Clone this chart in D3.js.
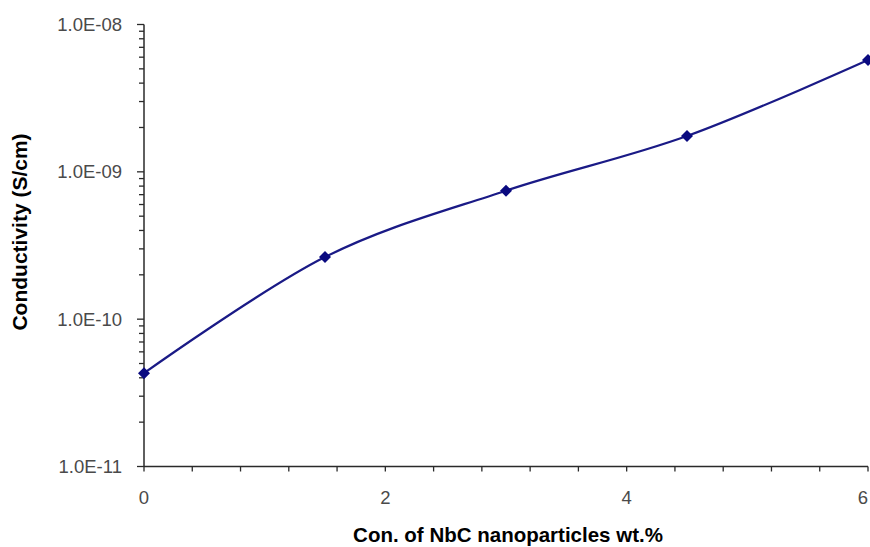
<!DOCTYPE html>
<html>
<head>
<meta charset="utf-8">
<script src="https://cdn.jsdelivr.net/npm/d3@7/dist/d3.min.js"></script>
<style>
  html, body { margin: 0; padding: 0; background: #fff; }
  svg { display: block; }
</style>
</head>
<body>
<svg id="chart" width="870" height="547"></svg>
<script>
// NbC loading (wt.%) and measured conductivity (S/cm)
const concentration = [0, 1.5, 3, 4.5, 6];
const conductivity = [4.3e-11, 2.64e-10, 7.45e-10, 1.75e-9, 5.74e-9];
const xTickValues = [0, 2, 4, 6];
const yTickValues = [1e-11, 1e-10, 1e-9, 1e-8];
const yTickLabels = ["1.0E-11", "1.0E-10", "1.0E-09", "1.0E-08"];

const svg = d3.select("#chart");
const width = 870;
const plotLeft = 144, plotRight = 868, plotTop = 24.5, plotBottom = 466.5;

const x = d3.scaleLinear().domain([0, 6]).range([plotLeft, plotRight]);
const y = d3.scaleLog().domain([1e-11, 1e-8]).range([plotBottom, plotTop]);

const axisColor = "#2a2a2a";
const labelColor = "#4a4a4a";
const font = "Liberation Sans, Arial, sans-serif";

// minor tick positions
const xMinor = d3.range(0, 6.0001, 0.4);
const yMinor = [];
[1e-11, 1e-10, 1e-9].forEach(d => { for (let k = 2; k <= 9; k++) yMinor.push(d * k); });

// x axis
const gx = svg.append("g").attr("transform", `translate(0,${plotBottom})`);
gx.append("line").attr("x1", plotLeft).attr("x2", plotRight).attr("y1", 0).attr("y2", 0)
  .attr("stroke", axisColor).attr("stroke-width", 1.5);
gx.selectAll("line.tick").data(xMinor).join("line").attr("class", "tick")
  .attr("x1", d => x(d)).attr("x2", d => x(d)).attr("y1", 0).attr("y2", 5)
  .attr("stroke", axisColor).attr("stroke-width", 1.3);
// the last label sits against the right edge, so it is kept inside the page
gx.selectAll("text").data(xTickValues).join("text")
  .attr("x", d => Math.min(x(d), width - 1))
  .attr("y", 37)
  .attr("text-anchor", d => x(d) + 6 > width ? "end" : "middle")
  .attr("font-family", font)
  .attr("font-size", 18.5).attr("fill", labelColor)
  .text(d => d);

// y axis
const gy = svg.append("g").attr("transform", `translate(${plotLeft},0)`);
gy.append("line").attr("x1", 0).attr("x2", 0).attr("y1", plotTop).attr("y2", plotBottom)
  .attr("stroke", axisColor).attr("stroke-width", 1.5);
gy.selectAll("line.minor").data(yMinor).join("line").attr("class", "minor")
  .attr("x1", -5).attr("x2", 0).attr("y1", d => y(d)).attr("y2", d => y(d))
  .attr("stroke", axisColor).attr("stroke-width", 1.3);
gy.selectAll("line.major").data(yTickValues).join("line").attr("class", "major")
  .attr("x1", -7).attr("x2", 0).attr("y1", d => y(d)).attr("y2", d => y(d))
  .attr("stroke", axisColor).attr("stroke-width", 1.3);
gy.selectAll("text").data(yTickValues).join("text")
  .attr("x", -22).attr("y", d => y(d)).attr("dy", "0.36em")
  .attr("text-anchor", "end")
  .attr("font-family", font)
  .attr("font-size", 18.5).attr("fill", labelColor)
  .text((d, i) => yTickLabels[i]);

// axis titles
svg.append("text")
  .attr("x", 508).attr("y", 542)
  .attr("text-anchor", "middle")
  .attr("font-family", font)
  .attr("font-size", 20.5).attr("font-weight", "bold").attr("fill", "#000")
  .text("Con. of NbC nanoparticles wt.%");
svg.append("text")
  .attr("transform", "translate(27,232) rotate(-90)")
  .attr("text-anchor", "middle")
  .attr("font-family", font)
  .attr("font-size", 21).attr("font-weight", "bold").attr("fill", "#000")
  .text("Conductivity (S/cm)");

// smoothed series line
const pts = concentration.map((c, i) => [c, conductivity[i]]);
const line = d3.line().x(d => x(d[0])).y(d => y(d[1])).curve(d3.curveCardinal.tension(0));
svg.append("path").datum(pts)
  .attr("d", line).attr("fill", "none")
  .attr("stroke", "#1a1a86").attr("stroke-width", 2.2);

// square-proportioned diamond marker
const squareDiamond = {
  draw(ctx, size) {
    const r = Math.sqrt(size / 2);
    ctx.moveTo(0, -r); ctx.lineTo(r, 0); ctx.lineTo(0, r); ctx.lineTo(-r, 0); ctx.closePath();
  }
};
svg.selectAll("path.marker").data(pts).join("path").attr("class", "marker")
  .attr("transform", d => `translate(${x(d[0])},${y(d[1])})`)
  .attr("d", d3.symbol().type(squareDiamond).size(72))
  .attr("fill", "#0a0a80");
</script>
</body>
</html>
